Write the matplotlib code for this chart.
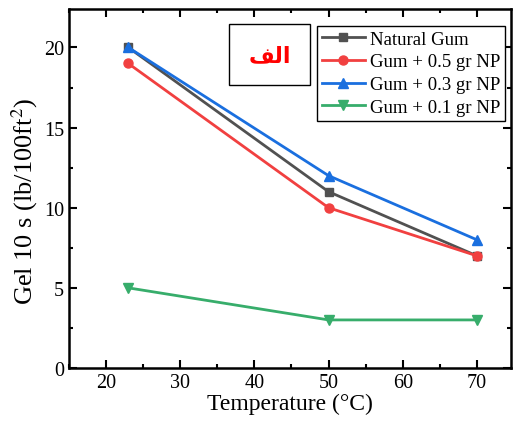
import matplotlib
matplotlib.use("Agg")
from matplotlib import pyplot as plt
from matplotlib.patches import Rectangle
from matplotlib.ticker import MultipleLocator

temps = [23, 50, 70]
natural = [20, 11, 7]
np05 = [19, 10, 7]
np03 = [20, 12, 8]
np01 = [5, 3, 3]
labels = ["Natural Gum", "Gum + 0.5 gr NP", "Gum + 0.3 gr NP", "Gum + 0.1 gr NP"]

plt.rcParams['font.family'] = ['Liberation Serif', 'DejaVu Sans']
plt.rcParams['mathtext.fontset'] = 'stix'

fig = plt.figure(figsize=(5.13, 4.27), dpi=100)
ax = fig.add_axes([69 / 513, 1 - 369 / 427, (511 - 69) / 513, (369 - 10) / 427])

ax.plot(temps, natural, '-s', color='#515151', lw=2, ms=6, label=labels[0])
ax.plot(temps, np05, '-o', color='#F14040', lw=2, ms=6.5, label=labels[1])
ax.plot(temps, np03, '-^', color='#1A6FDF', lw=2, ms=7, label=labels[2])
ax.plot(temps, np01, '-v', color='#37AD6B', lw=2, ms=7, label=labels[3])

ax.set_xlim(15, 74.6)
ax.set_ylim(0, 22.4)
ax.xaxis.set_major_locator(MultipleLocator(10))
ax.xaxis.set_minor_locator(MultipleLocator(5))
ax.yaxis.set_major_locator(MultipleLocator(5))
ax.yaxis.set_minor_locator(MultipleLocator(2.5))
ax.tick_params(which='both', direction='in', top=True, right=True, labelsize=14.5, width=1.5)
ax.tick_params(which='major', length=6)
ax.tick_params(which='minor', length=3)
for s in ax.spines.values():
    s.set_linewidth(1.8)

ax.set_xlabel('Temperature (°C)', fontsize=17, labelpad=1)
ax.set_ylabel('Gel 10 s (lb/100ft$^2$)', fontsize=19)
ax.yaxis.set_label_coords(-0.065, 0.468)

leg = ax.legend(loc='upper right', bbox_to_anchor=(0.986, 0.953), fontsize=13.5,
                frameon=True, fancybox=False, edgecolor='black', framealpha=1,
                handlelength=2.3, handletextpad=0.25, borderpad=0.25, labelspacing=0.3,
                borderaxespad=0)
leg.get_frame().set_linewidth(1.0)

# Arabic label box, text written in presentation forms so it shows joined
ax.add_patch(Rectangle((0.362, 0.788), 0.183, 0.17, transform=ax.transAxes,
                       fc='white', ec='black', lw=1.0, zorder=5))
ax.text(0.455, 0.872, '\uFED2\uFEDF\uFE8D', transform=ax.transAxes, color='red',
        fontsize=16, fontweight='bold', family=['DejaVu Sans'], ha='center', va='center',
        zorder=6)

fig.savefig('out.png', dpi=100)
